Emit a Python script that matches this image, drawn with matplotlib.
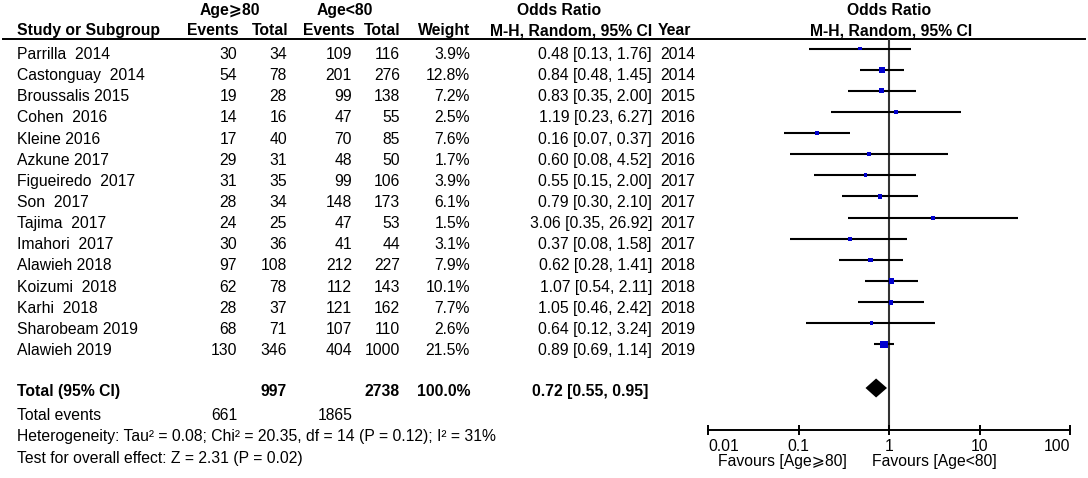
import numpy as np
import matplotlib.pyplot as plt

plt.rcParams['font.family'] = ['Liberation Sans', 'DejaVu Sans']

studies = ["Parrilla  2014", "Castonguay  2014", "Broussalis 2015", "Cohen  2016",
           "Kleine 2016", "Azkune 2017", "Figueiredo  2017", "Son  2017",
           "Tajima  2017", "Imahori  2017", "Alawieh 2018", "Koizumi  2018",
           "Karhi  2018", "Sharobeam 2019", "Alawieh 2019"]
events_old = [30, 54, 19, 14, 17, 29, 31, 28, 24, 30, 97, 62, 28, 68, 130]
total_old = [34, 78, 28, 16, 40, 31, 35, 34, 25, 36, 108, 78, 37, 71, 346]
events_young = [109, 201, 99, 47, 70, 48, 99, 148, 47, 41, 212, 112, 121, 107, 404]
total_young = [116, 276, 138, 55, 85, 50, 106, 173, 53, 44, 227, 143, 162, 110, 1000]
weight = [3.9, 12.8, 7.2, 2.5, 7.6, 1.7, 3.9, 6.1, 1.5, 3.1, 7.9, 10.1, 7.7, 2.6, 21.5]
odds = [0.48, 0.84, 0.83, 1.19, 0.16, 0.60, 0.55, 0.79, 3.06, 0.37, 0.62, 1.07, 1.05, 0.64, 0.89]
ci_low = [0.13, 0.48, 0.35, 0.23, 0.07, 0.08, 0.15, 0.30, 0.35, 0.08, 0.28, 0.54, 0.46, 0.12, 0.69]
ci_high = [1.76, 1.45, 2.00, 6.27, 0.37, 4.52, 2.00, 2.10, 26.92, 1.58, 1.41, 2.11, 2.42, 3.24, 1.14]
years = [2014, 2014, 2015, 2016, 2016, 2016, 2017, 2017, 2017, 2017, 2018, 2018, 2018, 2019, 2019]

total_or, total_lo, total_hi = 0.72, 0.55, 0.95
total_n_old, total_n_young = 997, 2738
total_ev_old, total_ev_young = 661, 1865
heterogeneity = "Heterogeneity: Tau\u00b2 = 0.08; Chi\u00b2 = 20.35, df = 14 (P = 0.12); I\u00b2 = 31%"
overall = "Test for overall effect: Z = 2.31 (P = 0.02)"
ticks = [0.01, 0.1, 1, 10, 100]
tick_labels = ["0.01", "0.1", "1", "10", "100"]

W, H = 1088, 478
fs = 11.3
fig = plt.figure(figsize=(W / 100, H / 100), dpi=100)

# text layer in pixel coordinates
tx = fig.add_axes([0, 0, 1, 1])
tx.set_xlim(0, W)
tx.set_ylim(H, 0)
tx.axis('off')

# forest panel, same vertical pixel coordinates, log x
fx = fig.add_axes([708 / W, 0, 362 / W, 1])
fx.set_ylim(H, 0)
fx.set_xscale('log')
fx.set_xlim(0.01, 100)
fx.patch.set_visible(False)
for s in ['left', 'right', 'top']:
    fx.spines[s].set_visible(False)
fx.spines['bottom'].set_position(('data', 430))
fx.spines['bottom'].set_linewidth(1.4)
fx.set_yticks([])
fx.set_xticks(ticks)
fx.set_xticklabels(tick_labels)
fx.minorticks_off()
fx.tick_params(axis='x', direction='inout', length=7.5, width=1.4,
               labelsize=fs, pad=2.5)
labs = fx.get_xticklabels()
labs[0].set_ha('left')
labs[-1].set_ha('right')

def t(x, y, s, ha='left', bold=False):
    tx.text(x, y, s, ha=ha, va='baseline', fontsize=fs,
            fontweight='bold' if bold else 'normal')

# headers
t(229.5, 15, "Age\u2a7e80", ha='center', bold=True)
t(345, 15, "Age<80", ha='center', bold=True)
t(559, 15, "Odds Ratio", ha='center', bold=True)
t(889, 15, "Odds Ratio", ha='center', bold=True)
t(17, 35, "Study or Subgroup", bold=True)
t(239, 35, "Events", ha='right', bold=True)
t(288, 35, "Total", ha='right', bold=True)
t(355, 35, "Events", ha='right', bold=True)
t(401, 35, "Total", ha='right', bold=True)
t(470, 35, "Weight", ha='right', bold=True)
t(652, 35, "M-H, Random, 95% CI", ha='right', bold=True)
t(658, 35, "Year", bold=True)
t(891, 35, "M-H, Random, 95% CI", ha='center', bold=True)
tx.plot([3, 1085], [38.5, 38.5], color='black', lw=1.4)

# study rows
ys = 48.5 + np.arange(len(studies)) * 21.14
for i, y in enumerate(ys):
    b = y + 10.5
    t(17, b, studies[i])
    t(237, b, str(events_old[i]), ha='right')
    t(287, b, str(total_old[i]), ha='right')
    t(352, b, str(events_young[i]), ha='right')
    t(400, b, str(total_young[i]), ha='right')
    t(470, b, f"{weight[i]:.1f}%", ha='right')
    t(652, b, f"{odds[i]:.2f} [{ci_low[i]:.2f}, {ci_high[i]:.2f}]", ha='right')
    t(660, b, str(years[i]))

fx.vlines(1, 38.5, 430, color='#333333', lw=1.5, zorder=1)
fx.hlines(ys, ci_low, ci_high, color='black', lw=1.5, zorder=2)
side = np.maximum(3.8, 1.7 * np.sqrt(weight)) * 0.72
fx.scatter(odds, ys, marker='s', s=side ** 2, color='#0000CD', lw=0, zorder=3)

# total row
ty = 388
t(17, ty + 8, "Total (95% CI)", bold=True)
t(287, ty + 8, str(total_n_old), ha='right', bold=True)
t(400, ty + 8, str(total_n_young), ha='right', bold=True)
t(470, ty + 8, "100.0%", ha='right', bold=True)
t(648, ty + 8, f"{total_or:.2f} [{total_lo:.2f}, {total_hi:.2f}]", ha='right', bold=True)
fx.fill([total_lo, total_or, total_hi, total_or], [ty, ty - 9.5, ty, ty + 9.5],
        color='black', lw=0, zorder=3)

t(17, 420, "Total events")
t(237, 420, str(total_ev_old), ha='right')
t(353, 420, str(total_ev_young), ha='right')
t(17, 441.5, heterogeneity)
t(17, 463, overall)

t(847, 466, "Favours [Age\u2a7e80]", ha='right')
t(872, 466, "Favours [Age<80]")

fig.savefig("out.png", dpi=100)
